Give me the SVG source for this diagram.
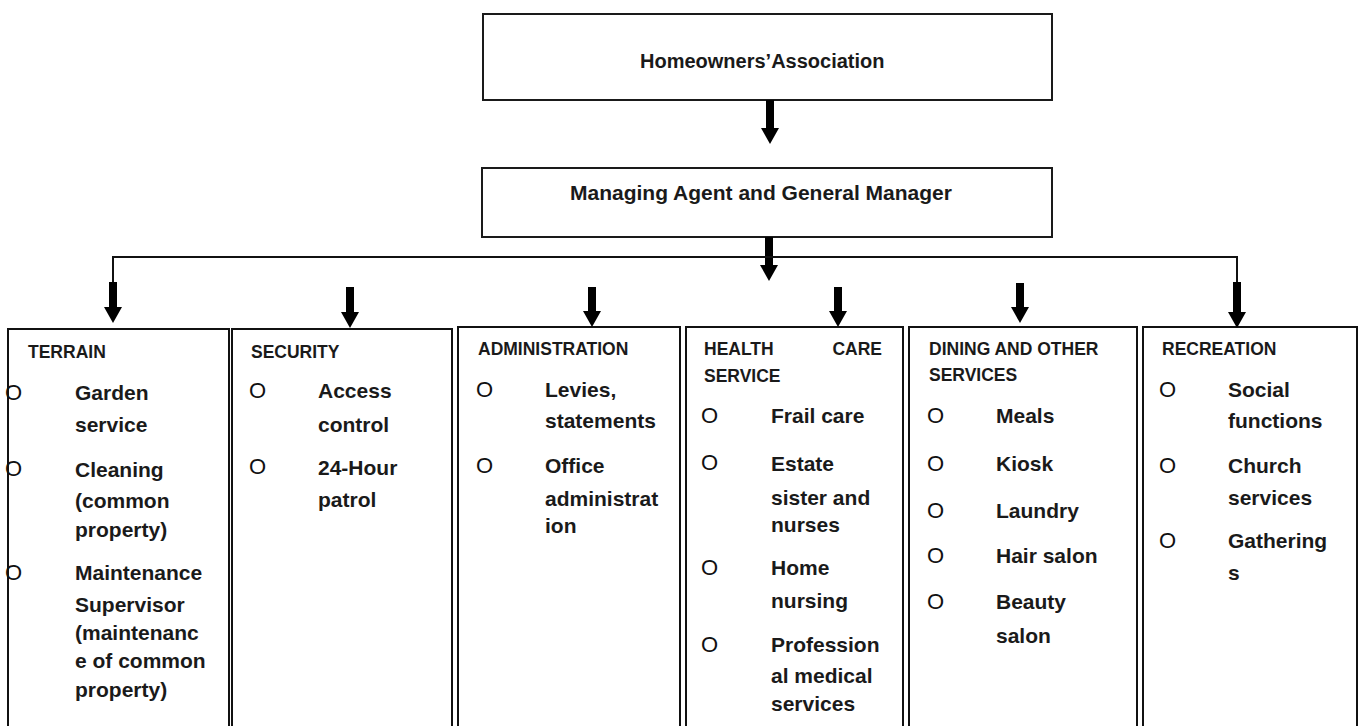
<svg xmlns="http://www.w3.org/2000/svg" width="1360" height="726" viewBox="0 0 1360 726">
<defs>
<marker id="head" viewBox="0 -9 16 18" refX="0" refY="0" markerWidth="16" markerHeight="18" markerUnits="userSpaceOnUse" orient="auto">
<path d="M0,-9 L16,0 L0,9 z" fill="#000"/>
</marker>
</defs>
<style>
.box{fill:#fff;stroke:#1a1a1a;stroke-width:2}
.col{fill:#fff;stroke:#111;stroke-width:2}
.hdr{font-family:"Liberation Sans",Arial,sans-serif;font-weight:bold;fill:#1a1a1a}
.ttl{font-family:"Liberation Sans",Arial,sans-serif;font-weight:bold;font-size:17.5px;fill:#1a1a1a}
.itm{font-family:"Liberation Sans",Arial,sans-serif;font-weight:bold;font-size:21px;fill:#1a1a1a}
.bul{font-family:"Liberation Sans",Arial,sans-serif;font-size:22px;fill:#111}
.thick{stroke:#000;stroke-width:8;fill:none;marker-end:url(#head)}
.thin{stroke:#111;stroke-width:2;fill:none}
</style>

<g id="hoa">
<rect class="box" x="483" y="14" width="569" height="86"/>
<text class="hdr" x="640" y="68" font-size="20">Homeowners’Association</text>
</g>

<g id="manager">
<rect class="box" x="482" y="168" width="570" height="69"/>
<text class="hdr" x="570" y="200" font-size="21">Managing Agent and General Manager</text>
</g>

<g id="terrain">
<rect class="col" x="8" y="329" width="221" height="420"/>
<text class="ttl" x="28" y="358">TERRAIN</text>
<text class="bul" x="5" y="400">O</text><text class="itm" x="75" y="400">Garden</text>
<text class="itm" x="75" y="432">service</text>
<text class="bul" x="5" y="476">O</text><text class="itm" x="75" y="477">Cleaning</text>
<text class="itm" x="75" y="508">(common</text>
<text class="itm" x="75" y="537">property)</text>
<text class="bul" x="5" y="580">O</text><text class="itm" x="75" y="580">Maintenance</text>
<text class="itm" x="75" y="612">Supervisor</text>
<text class="itm" x="75" y="640">(maintenanc</text>
<text class="itm" x="75" y="668">e of common</text>
<text class="itm" x="75" y="697">property)</text>
</g>

<g id="security">
<rect class="col" x="232" y="329" width="220" height="420"/>
<text class="ttl" x="251" y="358">SECURITY</text>
<text class="bul" x="249" y="398">O</text><text class="itm" x="318" y="398">Access</text>
<text class="itm" x="318" y="432">control</text>
<text class="bul" x="249" y="474">O</text><text class="itm" x="318" y="475">24-Hour</text>
<text class="itm" x="318" y="507">patrol</text>
</g>

<g id="administration">
<rect class="col" x="458" y="327" width="222" height="420"/>
<text class="ttl" x="478" y="355">ADMINISTRATION</text>
<text class="bul" x="476" y="397">O</text><text class="itm" x="545" y="397">Levies,</text>
<text class="itm" x="545" y="428">statements</text>
<text class="bul" x="476" y="473">O</text><text class="itm" x="545" y="473">Office</text>
<text class="itm" x="545" y="506">administrat</text>
<text class="itm" x="545" y="533">ion</text>
</g>

<g id="health">
<rect class="col" x="686" y="327" width="217" height="420"/>
<text class="ttl" x="704" y="355">HEALTH</text>
<text class="ttl" x="882" y="355" text-anchor="end">CARE</text>
<text class="ttl" x="704" y="382">SERVICE</text>
<text class="bul" x="701" y="423">O</text><text class="itm" x="771" y="423">Frail care</text>
<text class="bul" x="701" y="470">O</text><text class="itm" x="771" y="471">Estate</text>
<text class="itm" x="771" y="505">sister and</text>
<text class="itm" x="771" y="532">nurses</text>
<text class="bul" x="701" y="575">O</text><text class="itm" x="771" y="575">Home</text>
<text class="itm" x="771" y="608">nursing</text>
<text class="bul" x="701" y="652">O</text><text class="itm" x="771" y="652">Profession</text>
<text class="itm" x="771" y="683">al medical</text>
<text class="itm" x="771" y="711">services</text>
</g>

<g id="dining">
<rect class="col" x="909" y="327" width="228" height="420"/>
<text class="ttl" x="929" y="355">DINING AND OTHER</text>
<text class="ttl" x="929" y="381">SERVICES</text>
<text class="bul" x="927" y="423">O</text><text class="itm" x="996" y="423">Meals</text>
<text class="bul" x="927" y="471">O</text><text class="itm" x="996" y="471">Kiosk</text>
<text class="bul" x="927" y="518">O</text><text class="itm" x="996" y="518">Laundry</text>
<text class="bul" x="927" y="563">O</text><text class="itm" x="996" y="563">Hair salon</text>
<text class="bul" x="927" y="609">O</text><text class="itm" x="996" y="609">Beauty</text>
<text class="itm" x="996" y="643">salon</text>
</g>

<g id="recreation">
<rect class="col" x="1143" y="327" width="214" height="420"/>
<text class="ttl" x="1162" y="355">RECREATION</text>
<text class="bul" x="1159" y="397">O</text><text class="itm" x="1228" y="397">Social</text>
<text class="itm" x="1228" y="428">functions</text>
<text class="bul" x="1159" y="473">O</text><text class="itm" x="1228" y="473">Church</text>
<text class="itm" x="1228" y="505">services</text>
<text class="bul" x="1159" y="548">O</text><text class="itm" x="1228" y="548">Gathering</text>
<text class="itm" x="1228" y="580">s</text>
</g>

<g id="connectors">
<line class="thick" x1="770" y1="100" x2="770" y2="128"/>
<line class="thick" x1="769" y1="237" x2="769" y2="265"/>
<path class="thin" d="M113,283 L113,257 L1237,257 L1237,283"/>
<line class="thick" x1="113" y1="282" x2="113" y2="307"/>
<line class="thick" x1="350" y1="287" x2="350" y2="312"/>
<line class="thick" x1="592" y1="287" x2="592" y2="311"/>
<line class="thick" x1="838" y1="287" x2="838" y2="311"/>
<line class="thick" x1="1020" y1="283" x2="1020" y2="307"/>
<line class="thick" x1="1237" y1="282" x2="1237" y2="312"/>
</g>
</svg>
